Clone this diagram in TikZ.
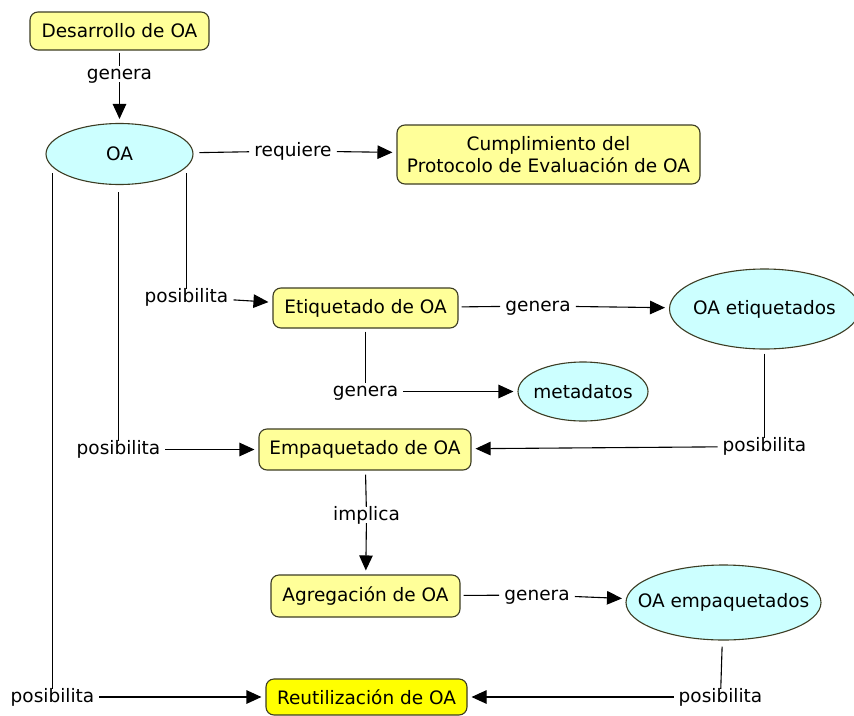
\documentclass[tikz,border=0pt]{standalone}
\usepackage{fontspec}
\setmainfont{DejaVu Sans}
\usetikzlibrary{arrows.meta,shapes.geometric}
\definecolor{pale}{RGB}{255,255,153}
\definecolor{bright}{RGB}{255,255,0}
\definecolor{cyanf}{RGB}{204,255,255}
\definecolor{edge}{RGB}{60,60,35}
\begin{document}
\begin{tikzpicture}[x=1pt,y=-1pt, font=\fontsize{18.5}{22}\selectfont,
 box/.style={draw=edge, line width=1.1pt, rounded corners=8pt, fill=pale, inner sep=0pt},
 oval/.style={ellipse, draw=edge, line width=1.1pt, fill=cyanf, inner xsep=-40pt, inner ysep=-10pt},
 lab/.style={inner xsep=5pt, inner ysep=2.5pt, text height=2.0ex, text depth=0ex},
 con/.style={line width=1.1pt, draw=black},
 arr/.style={con, -{Triangle[length=15pt,width=13.5pt]}, shorten >=4pt},
]
\useasboundingbox (0,0) rectangle (854,715);
% concepts
\node[box, minimum width=179pt, minimum height=38pt] (des) at (119.5,31) {Desarrollo de OA};
\node[oval, minimum width=147pt, minimum height=61pt] (oa) at (119.5,154) {OA};
\node[box, minimum width=303pt, minimum height=59pt, align=center] (cump) at (548.5,154.5) {Cumplimiento del\\Protocolo de Evaluación de OA};
\node[box, minimum width=185pt, minimum height=40pt] (etiq) at (365.5,308) {Etiquetado de OA};
\node[oval, minimum width=190pt, minimum height=80pt] (oaet) at (764.5,309) {OA etiquetados};
\node[oval, minimum width=130pt, minimum height=59pt] (meta) at (583,391.5) {metadatos};
\node[box, minimum width=212pt, minimum height=41pt] (emp) at (365,449.5) {Empaquetado de OA};
\node[box, minimum width=189pt, minimum height=42pt] (agr) at (365.5,596) {Agregación de OA};
\node[oval, minimum width=195pt, minimum height=75pt] (oaem) at (723.5,602.5) {OA empaquetados};
\node[box, fill=bright, minimum width=201pt, minimum height=36pt] (reu) at (366.5,697) {Reutilización de OA};
% linking phrases
\node[lab] (g1) at (119.5,74) {genera};
\node[lab] (req) at (293,151) {requiere};
\node[lab] (p1) at (186.5,297) {posibilita};
\node[lab] (g2) at (538,306) {genera};
\node[lab] (g3) at (365.5,391.5) {genera};
\node[lab] (p2) at (118.5,449.5) {posibilita};
\node[lab] (p3) at (764.5,446.5) {posibilita};
\node[lab] (imp) at (366.5,515) {implica};
\node[lab] (g4) at (537,595) {genera};
\node[lab] (p4) at (52.5,697) {posibilita};
\node[lab] (p5) at (720.5,697) {posibilita};
\coordinate (o1) at (186.5,173);
\coordinate (o2) at (118.5,192);
\coordinate (o3) at (52.5,173);
% connectors
\draw[con, shorten <=2pt] (des) -- (g1);
\draw[arr] (g1) -- (oa);
\draw[con, shorten <=6pt] (oa) -- (req);
\draw[arr] (req) -- (cump);
\draw[con] (o1) -- (p1);
\draw[arr] (p1) -- (etiq);
\draw[con, shorten <=3pt] (etiq) -- (g2);
\draw[arr] (g2) -- (oaet);
\draw[con, shorten <=3pt] (etiq) -- (g3);
\draw[arr] (g3) -- (meta);
\draw[con] (o2) -- (p2);
\draw[arr] (p2) -- (emp);
\draw[con, shorten <=4pt] (oaet) -- (p3);
\draw[arr] (p3) -- (emp);
\draw[con, shorten <=4pt] (emp) -- (imp);
\draw[arr] (imp) -- (agr);
\draw[con, shorten <=3pt] (agr) -- (g4);
\draw[arr] (g4) -- (oaem);
\draw[con] (o3) -- (p4);
\draw[arr] (p4) -- (reu);
\draw[con, shorten <=6pt] (oaem) -- (p5);
\draw[arr] (p5) -- (reu);
\end{tikzpicture}
\end{document}
